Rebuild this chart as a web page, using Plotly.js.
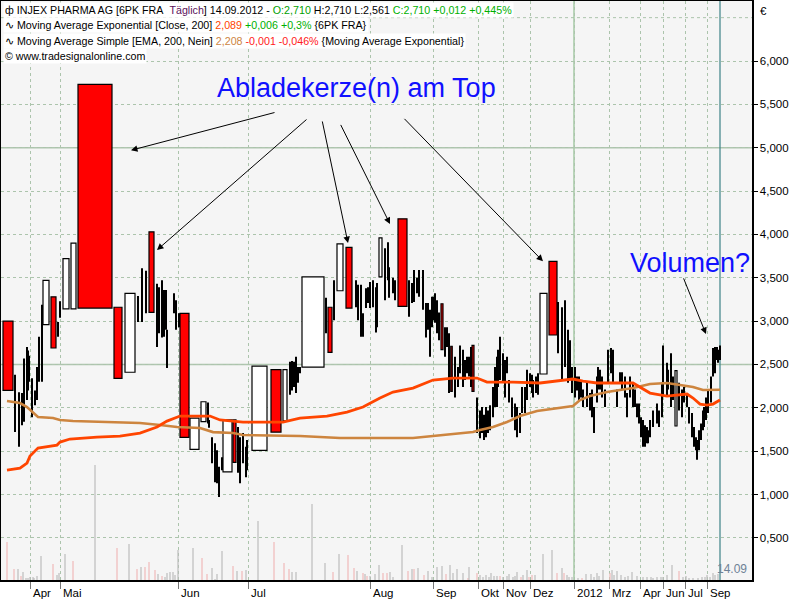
<!DOCTYPE html>
<html><head><meta charset="utf-8">
<script src="https://cdn.plot.ly/plotly-3.0.1.min.js"></script>
<style>html,body{margin:0;padding:0;background:#fff}#chart{width:800px;height:600px}</style>
</head><body><div id="chart"></div>
<script>
// Equivolume (CandleVolume) chart: x axis = cumulative volume position
// Wide candles (bodies whose width = traded volume)
const bodyPos   = [8,46,53.5,66,73.5,95,118,130,151.5,184.5, 194.5,203.5,227.5,234.5,259.5,276,285,313,330,340, 349,380.5,402.5,442,451.5,473,543.5,553,676];
const bodyVol   = [10,6,5,6,5,34,8,10,5,9, 9,5,9,3,15,10,4,22,4,6, 6,3,9,2,1.5,2,7,8,2];
const bodyOpen  = [3.00,2.96,3.28,3.14,3.14,5.73,3.16,2.41,4.03,3.09, 1.52,1.84,1.26,1.86,1.51,2.44,1.85,2.47,3.16,3.35, 3.85,3.51,4.18,3.20,2.71,2.72,2.39,3.69,1.79];
const bodyClose = [2.20,3.47,2.69,3.72,3.90,3.15,2.34,3.32,3.10,1.66, 1.88,2.07,1.86,1.37,2.48,1.72,2.44,3.51,2.64,3.89, 3.15,3.96,3.17,2.67,2.19,2.19,3.32,2.84,2.43];

// Low-volume bars (drawn as high-low lines)
const tickPos = [15,19,22,24,27,28,29,32,35,37, 39,42,58,60,138,142,146,157,159,162, 164,166,167,174,176,179,208,209,212,215,
 217,219,222,238,240,243,246,247,290,292, 294,296,298,300,326,334,356,358,361,363, 366,368,370,373,376,377,385,388,389,393,
 395,409,412,414,417,419,423,426,428,430, 432,433,435,437,439,445,447,449,455,458, 460,463,465,467,469,471,477,480,482,484,
 486,488,490,493,495,497,498,500,503,505, 507,509,512,515,517,520,522,525,527,530, 532,533,536,538,558,562,565,568,570,572,
 575,577,579,581,583,587,590,592,594,597, 598,600,602,605,608,611,613,617,620,622, 625,627,630,633,635,637,639,641,643,645,
 647,648,650,653,657,659,662,663,667,668, 671,673,679,682,684,687,689,692,694,696, 697,699,701,703,704,706,708,711,713,715,
 717,718,720];
const tickHigh = [2.38,2.18,2.17,2.57,2.70,2.66,2.60,2.34,2.20,2.47, 2.82,3.19,2.99,3.23,3.29,3.61,3.58,3.43,3.39,3.47, 3.36,3.36,2.90,3.32,3.24,3.09,2.06,1.86,1.66,1.59,
 1.51,1.32,1.43,1.78,1.66,1.71,1.55,1.63,2.53,2.54, 2.53,2.59,2.47,2.47,3.27,3.47,3.47,3.42,3.42,3.09, 3.38,3.39,3.45,3.47,3.39,3.44,3.84,3.91,3.62,3.50,
 3.47,3.47,3.44,3.59,3.50,3.59,3.59,3.21,3.21,3.13, 3.28,3.28,3.32,3.24,3.10,2.93,2.93,2.86,2.59,2.47, 2.72,2.67,2.55,2.59,2.59,2.70,2.12,1.97,2.01,1.92,
 2.01,1.97,2.03,2.24,2.47,2.59,2.67,2.82,2.63,2.55, 2.59,2.32,2.12,2.05,2.01,1.94,2.24,2.24,2.44,2.40, 2.38,2.32,2.36,2.40,3.22,3.16,3.24,2.90,2.78,2.47,
 2.47,2.36,2.36,2.32,2.21,2.29,2.17,2.21,2.01,2.36, 2.47,2.44,2.36,2.21,2.67,2.69,2.67,2.21,2.41,2.41, 2.36,2.17,2.36,2.29,2.21,2.05,2.05,1.89,1.86,1.80,
 1.78,1.74,1.86,1.97,2.05,1.97,2.29,2.72,2.52,2.44, 2.63,2.36,2.29,2.21,2.24,2.17,2.01,1.94,1.78,1.66, 1.63,1.74,1.82,1.97,2.01,2.12,2.21,2.36,2.69,2.70,
 2.70,2.67,2.72];
const tickLow = [1.72,1.55,1.80,1.84,2.09,2.20,2.30,1.89,2.03,2.09, 2.30,2.30,2.82,3.04,2.99,2.99,3.09,2.70,2.86,2.81, 2.82,2.90,2.46,3.09,2.90,2.93,1.82,1.77,1.36,1.14,
 1.13,0.97,1.28,1.25,1.13,1.36,1.20,1.28,2.15,2.20, 2.24,2.17,2.29,2.40,2.86,3.01,3.16,3.01,2.82,2.82, 3.15,3.21,3.15,3.16,2.87,2.93,3.24,3.47,3.27,3.32,
 3.24,3.05,3.21,3.22,3.32,3.28,3.13,2.81,2.90,2.59, 2.93,3.01,2.98,2.86,2.78,2.59,2.70,2.17,2.12,2.24, 2.40,2.24,2.32,2.40,2.36,2.24,1.71,1.65,1.71,1.63,
 1.66,1.71,1.74,1.89,2.01,2.01,2.24,2.32,2.29,2.12, 2.40,2.06,1.89,1.74,1.66,1.71,1.94,1.94,2.09,2.24, 2.17,2.12,2.17,2.15,2.63,2.32,2.47,2.29,2.32,2.17,
 2.12,2.20,2.09,2.12,2.01,2.01,1.97,1.89,1.71,2.06, 2.21,2.21,2.12,2.01,2.29,2.40,2.29,2.01,2.29,2.21, 2.12,1.89,2.12,2.01,2.01,1.89,1.82,1.66,1.55,1.55,
 1.59,1.59,1.66,1.78,1.82,1.78,1.89,2.13,2.13,2.21, 2.01,2.09,1.97,1.89,2.06,2.01,1.82,1.66,1.55,1.51, 1.40,1.51,1.63,1.74,1.78,1.86,1.94,2.06,2.36,2.40,
 2.55,2.52,2.55];

// Moving Average Exponential [Close, 200]
const emaPos = [7,20,27,30,38,57,60,70,97,120, 140,157,167,180,210,220,243,283,300,327, 347,363,380,393,413,433,453,477,487,513, 540,563,573,583,597,633,640,650,667,687, 693,700,707,713,720];
const emaVal = [1.28,1.305,1.363,1.444,1.536,1.57,1.605,1.64,1.663,1.674, 1.709,1.778,1.847,1.905,1.905,1.86,1.836,1.836,1.882,1.905, 1.951,2.009,2.113,2.182,2.228,2.32,2.343,2.343,2.297,2.297, 2.286,2.32,2.332,2.309,2.286,2.286,2.24,2.17,2.136,2.159, 2.113,2.043,2.032,2.043,2.089];
// Moving Average Simple [EMA, 200]
const smaPos = [7,20,27,33,38,53,60,73,117,140, 160,177,200,213,233,243,300,340,413,433, 453,473,480,493,507,520,537,553,573,580, 590,607,633,650,667,680,693,703,720];
const smaVal = [2.078,2.055,2.009,1.94,1.894,1.882,1.86,1.847,1.836,1.824, 1.801,1.778,1.767,1.72,1.709,1.686,1.674,1.651,1.651,1.674, 1.697,1.72,1.743,1.778,1.836,1.905,1.963,1.986,2.02,2.09, 2.136,2.182,2.228,2.274,2.286,2.263,2.24,2.205,2.208];

// Volume (relative units), down days = 1
const volPos = [7,14,18,21,23,26,28,30,33,34, 37,41,53,57,59,65,73,95,117,129, 137,141,145,149,155,158,162,165,167,170, 173,175,178,193,202,207,212,215,217,222,
 233,237,242,246,258,274,284,289,292,296, 312,325,333,339,348,354,357,363,365,367, 370,375,379,383,387,390,393,402,408,412, 414,418,424,428,432,437,442,446,450,453,
 457,463,468,469,477,480,483,486,489,491, 494,497,500,503,507,509,513,515,517,521, 523,527,529,532,535,543,552,557,562,564, 567,569,572,578,582,586,591,594,597,599,
 603,610,612,614,617,621,625,628,632,637, 643,647,651,653,657,661,663,667,672,679, 683,686,689,693,698,702,705,707,710,713, 715,718];
const volAmt = [38,11,11,4,8,2,2,3,3,2, 4,24,16,5,7,26,19,115,32,36, 11,13,13,18,10,6,4,3,7,8, 8,5,30,32,22,6,12,1,6,29,
 14,9,9,10,59,38,17,11,8,8, 76,17,8,26,25,12,9,7,6,4, 4,6,15,7,7,8,3,35,9,11, 11,12,5,9,3,13,14,6,15,7,
 11,7,2,13,7,5,3,5,3,7, 4,4,4,3,4,6,3,4,8,3, 5,10,3,5,5,26,30,7,12,7, 5,3,3,2,2,6,6,3,7,4,
 10,7,10,5,9,5,3,4,8,4, 3,3,3,2,3,3,3,5,15,9, 3,4,2,2,2,3,3,5,3,7, 5,6];
const volDown = [1,1,0,1,0,0,0,0,0,0, 0,0,1,0,0,0,1,0,1,0, 1,0,1,1,1,0,1,0,0,0, 0,0,0,0,1,1,0,0,0,0,
 1,0,1,0,0,1,1,1,0,0, 0,0,1,0,1,1,0,1,0,1, 0,0,0,1,1,0,0,0,1,0, 1,0,1,0,0,0,0,1,0,0,
 0,0,1,0,1,0,0,0,0,0, 0,0,1,0,0,0,0,0,0,1, 0,0,1,1,0,0,0,1,0,1, 0,0,0,0,1,0,0,0,0,0,
 0,1,0,0,0,0,0,0,0,0, 0,0,0,0,0,0,0,0,0,1, 0,0,0,0,0,0,0,0,0,0, 0,0];

const monthPos  = [30,60,178,248,370,433,478,503,530,574,609,640,663,685,707];
const monthText = ['Apr','Mai','Jun','Jul','Aug','Sep','Okt','Nov','Dez','2012','Mrz','Apr','Jun','Jul','Sep'];
const priceTicks = [0.5,1,1.5,2,2.5,3,3.5,4,4.5,5,5.5,6];

// wick/line segments
const wx = [], wy = [];
tickPos.forEach((p,i)=>{ wx.push(p,p,null); wy.push(tickLow[i],tickHigh[i],null); });

const traces = [
  {type:'bar', x:volPos, y:volAmt, yaxis:'y2', width:1.2,
   marker:{color:volDown.map(d=>d?'rgb(240,185,185)':'rgb(188,188,188)'), line:{width:0}}, hoverinfo:'skip'},
  {type:'scatter', mode:'lines', x:wx, y:wy, line:{color:'#000', width:2}, hoverinfo:'skip'},
  {type:'bar', x:bodyPos, width:bodyVol,
   base:bodyOpen.map((o,i)=>Math.min(o,bodyClose[i])),
   y:bodyOpen.map((o,i)=>Math.abs(bodyClose[i]-o)),
   marker:{color:bodyOpen.map((o,i)=>bodyClose[i]<o?'#ff0000':'#ffffff'), line:{color:'#000', width:1.2}}, hoverinfo:'skip'},
  {type:'scatter', mode:'lines', x:smaPos, y:smaVal, line:{color:'#cd853f', width:2.6}, hoverinfo:'skip'},
  {type:'scatter', mode:'lines', x:emaPos, y:emaVal, line:{color:'#ff4500', width:2.8}, hoverinfo:'skip'}
];

const gridC = 'rgb(172,196,172)';
const leg = (y, txt) => ({xref:'paper', yref:'paper', x:0.002, y:y, xanchor:'left', yanchor:'middle', showarrow:false,
  text:txt, bgcolor:'#ffffff', borderpad:1, font:{family:'Liberation Sans, Arial, sans-serif', size:10.7, color:'#000'}});
const arrow = (x, y, ax, ay) => ({x:x, y:y, xref:'x', yref:'y', ax:ax, ay:ay, axref:'x', ayref:'y', text:'',
  showarrow:true, arrowhead:2, arrowsize:1.3, arrowwidth:1, arrowcolor:'#000', standoff:0, startstandoff:0});
// month labels, left-aligned just right of their tick marks
const monthLabels = monthPos.map((p,i)=>({xref:'x', yref:'paper', x:p+1, y:-0.023, xanchor:'left', yanchor:'middle',
  text:monthText[i], showarrow:false, font:{family:'Liberation Sans, Arial, sans-serif', size:11.5, color:'#000'}}));

const layout = {
  width:800, height:600,
  margin:{l:1, r:48, t:1, b:20},
  paper_bgcolor:'#ffffff', plot_bgcolor:'#f5f5f5',
  showlegend:false, barmode:'overlay', separators:',.',
  font:{family:'Liberation Sans, Arial, sans-serif', size:11.5, color:'#000'},
  xaxis:{range:[1,752], tickmode:'array', tickvals:monthPos, ticktext:monthText, showticklabels:false,
    ticks:'outside', ticklen:7, tickcolor:'#777', showgrid:true, gridcolor:gridC, griddash:'dot', gridwidth:1,
    showline:true, linecolor:'#000', linewidth:1.5, mirror:true, zeroline:false, fixedrange:true},
  yaxis:{range:[0.014,6.692], side:'right', tickmode:'array', tickvals:priceTicks, tickformat:'.3f',
    ticks:'outside', ticklen:4, tickcolor:'#000', showgrid:true, gridcolor:gridC, griddash:'dot', gridwidth:1,
    showline:true, linecolor:'#000', linewidth:1.5, mirror:true, zeroline:false, fixedrange:true},
  yaxis2:{overlaying:'y', range:[0,579], visible:false, fixedrange:true},
  shapes:[
    {type:'line', xref:'paper', x0:0, x1:1, yref:'y', y0:6.5, y1:6.5, line:{color:gridC, width:1, dash:'dot'}, layer:'below'},
    {type:'line', xref:'paper', x0:0, x1:1, yref:'y', y0:5, y1:5, line:{color:'rgb(176,198,176)', width:1.5}, layer:'below'},
    {type:'line', xref:'paper', x0:0, x1:1, yref:'y', y0:2.5, y1:2.5, line:{color:'rgb(176,198,176)', width:1.5}, layer:'below'},
    {type:'line', xref:'x', x0:574, x1:574, yref:'paper', y0:0, y1:1, line:{color:'rgb(164,200,164)', width:1.5}, layer:'below'},
    {type:'line', xref:'x', x0:720, x1:720, yref:'paper', y0:0, y1:1, line:{color:'rgb(60,130,135)', width:1.2}, layer:'below'}
  ],
  annotations:[
    leg(0.985, 'ф INJEX PHARMA AG [6PK FRA&nbsp;&nbsp;<span style="color:#5a105a">Täglich</span>] 14.09.2012 - <span style="color:#00a000">O:2,710</span> H:2,710 L:2,561 <span style="color:#00b000">C:2,710 +0,012 +0,445%</span>'),
    leg(0.958, '∿ Moving Average Exponential [Close, 200] <span style="color:#ff4500">2,089</span> <span style="color:#00b000">+0,006 +0,3%</span> {6PK FRA}'),
    leg(0.931, '∿ Moving Average Simple [EMA, 200, Nein] <span style="color:#cd853f">2,208</span> <span style="color:#ff2020">-0,001 -0,046%</span> {Moving Average Exponential}'),
    leg(0.905, '© www.tradesignalonline.com'),
    {xref:'x', yref:'y', x:356, y:5.69, text:'Abladekerze(n) am Top', showarrow:false,
     font:{family:'Liberation Sans, Arial, sans-serif', size:27, color:'#1010ff'}},
    {xref:'x', yref:'y', x:752, y:3.67, xanchor:'right', text:'Volumen?', showarrow:false,
     font:{family:'Liberation Sans, Arial, sans-serif', size:27, color:'#1010ff'}},
    arrow(131, 4.97, 276, 5.41),
    arrow(157, 3.82, 308, 5.34),
    arrow(348, 3.90, 322, 5.32),
    arrow(390, 4.12, 340, 5.28),
    arrow(543, 3.69, 403, 5.35),
    arrow(706, 2.85, 683, 3.51),
    {xref:'paper', yref:'paper', x:1.008, y:0.982, xanchor:'left', yanchor:'middle', text:'€', showarrow:false,
     font:{size:11.5, color:'#000'}},
    {xref:'x', yref:'paper', x:749, y:0.004, xanchor:'right', yanchor:'bottom', text:'14.09', showarrow:false,
     font:{size:12, color:'rgb(110,130,150)'}}
  ].concat(monthLabels)
};

Plotly.newPlot('chart', traces, layout, {displayModeBar:false, staticPlot:true});
</script>
</body></html>
